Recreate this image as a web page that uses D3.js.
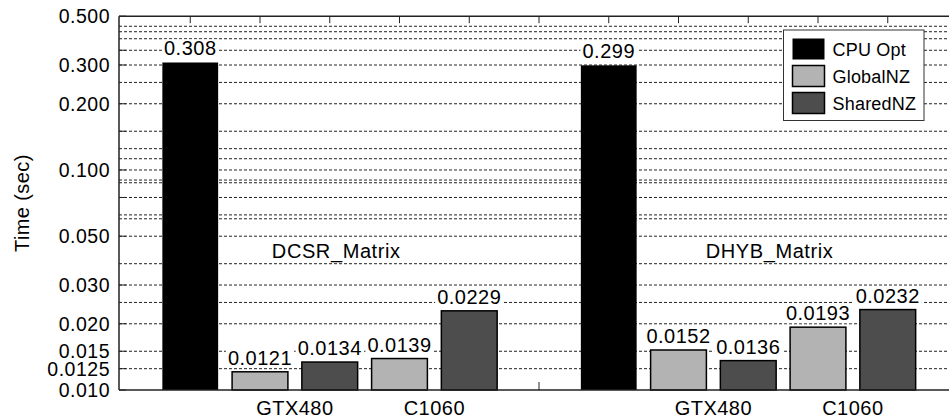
<!DOCTYPE html>
<html>
<head>
<meta charset="utf-8">
<script src="https://cdn.jsdelivr.net/npm/d3@7"></script>
<style>
  body { margin: 0; background: #fff; }
  text { font-family: "Liberation Sans", Arial, sans-serif; fill: #000; }
</style>
</head>
<body>
<svg id="chart" width="949" height="420"></svg>
<script>
// chart data
const groups = ["DCSR_Matrix", "DHYB_Matrix"];
const devices = ["GTX480", "C1060"];
const seriesNames = ["CPU Opt", "GlobalNZ", "SharedNZ"];
const cpuOpt = [0.308, 0.299];
// per group, per device
const globalNZ = [[0.0121, 0.0139], [0.0152, 0.0193]];
const sharedNZ = [[0.0134, 0.0229], [0.0136, 0.0232]];
const yTickValues = [0.010, 0.0125, 0.015, 0.020, 0.030, 0.050, 0.100, 0.200, 0.300, 0.500];
const yTickLabels = ["0.010", "0.0125", "0.015", "0.020", "0.030", "0.050", "0.100", "0.200", "0.300", "0.500"];
const gridValues = [0.0125, 0.015, 0.02, 0.025, 0.03, 0.0375, 0.05, 0.06, 0.0625, 0.075,
  0.0875, 0.09, 0.1, 0.1125, 0.125, 0.15, 0.2, 0.25, 0.3, 0.35, 0.395, 0.425, 0.45];
const minorTicks = [0.075, 0.15, 0.35];

const colors = { "CPU Opt": "#000000", "GlobalNZ": "#b3b3b3", "SharedNZ": "#4d4d4d" };

const width = 949, height = 420;
const plotLeft = 119, plotTop = 16.2, plotBottom = 390;
const svg = d3.select("#chart");

// one slot per bar, empty slot between groups
const x = d3.scaleLinear().domain([0, 12]).range([120.5, 957.5]);
const slot = x(1) - x(0);
const barW = slot * 0.8;
const y = d3.scaleLog().domain([0.01, 0.5]).range([plotBottom, plotTop]);

// build bar list
const bars = [];
groups.forEach((g, gi) => {
  const base = 1 + gi * 6;
  bars.push({ s: base, v: cpuOpt[gi], series: "CPU Opt" });
  devices.forEach((d, di) => {
    bars.push({ s: base + 1 + 2 * di, v: globalNZ[gi][di], series: "GlobalNZ" });
    bars.push({ s: base + 2 + 2 * di, v: sharedNZ[gi][di], series: "SharedNZ" });
  });
});

// grid
svg.append("g").selectAll("line")
  .data(gridValues)
  .enter().append("line")
  .attr("x1", plotLeft).attr("x2", width)
  .attr("y1", d => y(d)).attr("y2", d => y(d))
  .attr("stroke", "#222").attr("stroke-width", 1)
  .attr("stroke-dasharray", "3,2");

// top and bottom ticks at slot centers
const slots = d3.range(1, 13);
svg.append("g").selectAll("line")
  .data(slots).enter().append("line")
  .attr("x1", d => x(d)).attr("x2", d => x(d))
  .attr("y1", plotTop).attr("y2", plotTop + 7)
  .attr("stroke", "#222").attr("stroke-width", 1);
svg.append("g").selectAll("line")
  .data(slots).enter().append("line")
  .attr("x1", d => x(d)).attr("x2", d => x(d))
  .attr("y1", plotBottom).attr("y2", plotBottom - 8)
  .attr("stroke", "#222").attr("stroke-width", 1);

// left axis inner ticks
svg.append("g").selectAll("line")
  .data(yTickValues.concat(minorTicks)).enter().append("line")
  .attr("x1", plotLeft).attr("x2", plotLeft + 7)
  .attr("y1", d => y(d)).attr("y2", d => y(d))
  .attr("stroke", "#222").attr("stroke-width", 1);

// bars
svg.append("g").selectAll("rect")
  .data(bars).enter().append("rect")
  .attr("x", d => x(d.s) - barW / 2)
  .attr("y", d => y(d.v))
  .attr("width", barW)
  .attr("height", d => plotBottom - y(d.v))
  .attr("fill", d => colors[d.series])
  .attr("stroke", "#000")
  .attr("stroke-width", d => d.series === "CPU Opt" ? 0 : 1.5);

// value labels with white background
const vl = svg.append("g");
bars.forEach(d => {
  const t = vl.append("text")
    .attr("x", x(d.s)).attr("y", y(d.v) - 7)
    .attr("text-anchor", "middle")
    .style("font-size", "20px")
    .style("letter-spacing", "0.5px")
    .text(String(d.v));
  const b = t.node().getBBox();
  vl.insert("rect", () => t.node())
    .attr("x", b.x - 2).attr("y", b.y + 2)
    .attr("width", b.width + 4).attr("height", b.height - 3)
    .attr("fill", "#fff");
});

// frame lines: top, left, bottom
svg.append("line").attr("x1", plotLeft).attr("x2", width).attr("y1", plotTop).attr("y2", plotTop)
  .attr("stroke", "#222").attr("stroke-width", 1.5);
svg.append("line").attr("x1", plotLeft).attr("x2", width).attr("y1", plotBottom).attr("y2", plotBottom)
  .attr("stroke", "#222").attr("stroke-width", 1.5);
svg.append("line").attr("x1", plotLeft).attr("x2", plotLeft).attr("y1", plotTop).attr("y2", plotBottom)
  .attr("stroke", "#222").attr("stroke-width", 1.5);

// y tick labels
svg.append("g").selectAll("text")
  .data(yTickValues).enter().append("text")
  .attr("x", 110).attr("y", d => y(d))
  .attr("dy", "0.35em")
  .attr("text-anchor", "end")
  .style("font-size", "19.5px")
  .style("letter-spacing", "0.5px")
  .text((d, i) => yTickLabels[i]);

// y title
svg.append("text")
  .attr("transform", "translate(28.5," + ((plotTop + plotBottom) / 2) + ") rotate(-90)")
  .attr("text-anchor", "middle")
  .style("font-size", "20px")
  .style("letter-spacing", "0.4px")
  .text("Time (sec)");

// device labels under the axis
groups.forEach((g, gi) => {
  devices.forEach((d, di) => {
    svg.append("text")
      .attr("x", x(1 + gi * 6 + 1.5 + 2 * di))
      .attr("y", 415)
      .attr("text-anchor", "middle")
      .style("font-size", "20px")
      .style("letter-spacing", "0.5px")
      .text(d);
  });
});

// group labels
const groupLabelSlot = [2.17, 8.39];
groups.forEach((g, gi) => {
  svg.append("text")
    .attr("x", x(groupLabelSlot[gi]))
    .attr("y", y(0.04))
    .style("font-size", "20px")
    .style("letter-spacing", "0.6px")
    .text(g);
});

// legend
const lg = svg.append("g").attr("transform", "translate(783.5,30)");
lg.append("rect").attr("width", 140.5).attr("height", 90.5)
  .attr("fill", "#fff").attr("stroke", "#333").attr("stroke-width", 1);
seriesNames.forEach((s, i) => {
  lg.append("rect")
    .attr("x", 9).attr("y", 8.5 + i * 27)
    .attr("width", 32).attr("height", 21)
    .attr("fill", colors[s])
    .attr("stroke", "#000").attr("stroke-width", s === "CPU Opt" ? 0 : 1.5);
  lg.append("text")
    .attr("x", 49).attr("y", 25.5 + i * 27)
    .style("font-size", "18px")
    .style("letter-spacing", "0.2px")
    .text(s);
});
</script>
</body>
</html>
